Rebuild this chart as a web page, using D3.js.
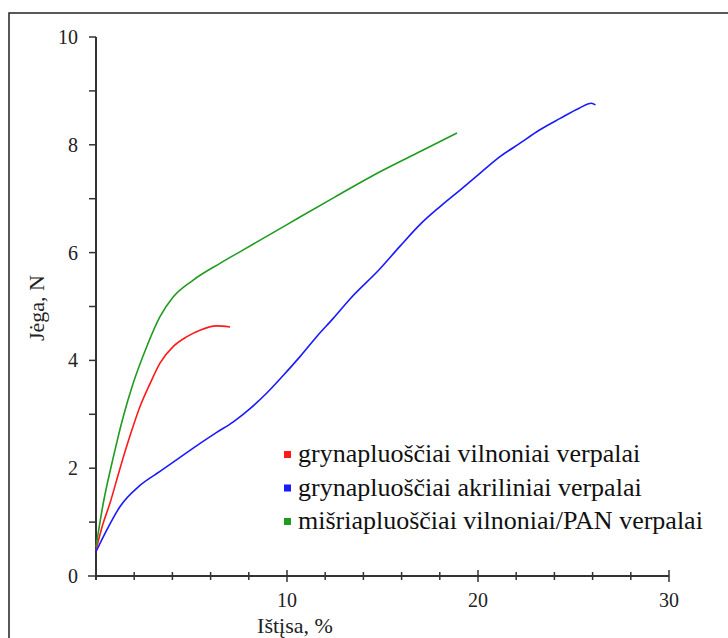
<!DOCTYPE html>
<html><head><meta charset="utf-8">
<script src="https://cdn.jsdelivr.net/npm/d3@7"></script>
<style>body{margin:0;background:#fff}svg{display:block}</style>
</head><body>
<svg id="c" width="728" height="638"></svg>
<script>
const seriesNames = ["grynapluoščiai vilnoniai verpalai","grynapluoščiai akriliniai verpalai","mišriapluoščiai vilnoniai/PAN verpalai"];
const seriesColors = ["#ff1a1a","#1a1aff","#1f9c1f"];
const redX = [0,0.35,0.73,1.26,1.78,2.30,2.83,3.35,4.05,4.76,5.44,6.31,7.02];
const redY = [0.48,0.95,1.35,2.00,2.60,3.14,3.57,3.95,4.26,4.44,4.56,4.64,4.62];
const blueX = [0,0.56,1.26,2.30,3.35,4.40,5.45,6.30,7.19,8.05,8.93,9.80,10.68,11.55,12.42,13.30,14.87,15.92,16.96,18.0,19.06,20.1,21.15,22.2,23.2,24.3,25.3,25.94,26.15];
const blueY = [0.45,0.85,1.29,1.68,1.94,2.20,2.46,2.66,2.86,3.10,3.39,3.72,4.07,4.44,4.78,5.14,5.70,6.12,6.52,6.85,7.16,7.47,7.78,8.03,8.27,8.49,8.68,8.77,8.74];
const greenX = [0,0.38,0.91,1.43,1.95,2.65,3.35,4.05,5.09,6.49,7.71,10.0,12.5,14.87,17.0,18.9];
const greenY = [0.54,1.35,2.21,2.96,3.58,4.25,4.81,5.18,5.49,5.80,6.05,6.52,7.03,7.50,7.88,8.22];
const xTicks = [0,2,4,6,8,10,12,14,16,18,20,22,24,26,28,30];
const xLabels = [10,20,30];
const yTicks = [0,1,2,3,4,5,6,7,8,9,10];
const yLabels = [0,2,4,6,8,10];

const svg = d3.select("#c");
const x = d3.scaleLinear().domain([0,30]).range([96,669]);
const y = d3.scaleLinear().domain([0,10]).range([576,37]);
const axisColor = "#333";
const font = "'Liberation Serif','Times New Roman',serif";

// frame
svg.append("path").attr("d","M9,640 L9,13 L730,13").attr("fill","none").attr("stroke","#222").attr("stroke-width",1.5);

// x axis
const xa = svg.append("g");
xa.append("line").attr("x1",x(0)).attr("x2",x(30)).attr("y1",y(0)).attr("y2",y(0)).attr("stroke",axisColor).attr("stroke-width",2);
xa.selectAll("line.t").data(xTicks.filter(d=>d>0)).enter().append("line")
  .attr("x1",d=>x(d)).attr("x2",d=>x(d))
  .attr("y1",d=>y(0)-(d%10===0?6:4)).attr("y2",d=>y(0)+(d%10===0?6:4))
  .attr("stroke",axisColor).attr("stroke-width",1.5);
xa.selectAll("text").data(xLabels).enter().append("text")
  .attr("x",d=>x(d)).attr("y",607).attr("text-anchor","middle")
  .attr("font-family",font).attr("font-size",20).attr("fill","#222").text(d=>d);

// y axis
const ya = svg.append("g");
ya.append("line").attr("x1",x(0)).attr("x2",x(0)).attr("y1",y(0)+4).attr("y2",y(10)).attr("stroke",axisColor).attr("stroke-width",2);
ya.selectAll("line.t").data(yTicks).enter().append("line")
  .attr("x1",d=>x(0)-(d===0?8:7)).attr("x2",x(0))
  .attr("y1",d=>y(d)).attr("y2",d=>y(d))
  .attr("stroke",axisColor).attr("stroke-width",1.5);
ya.selectAll("text").data(yLabels).enter().append("text")
  .attr("x",78).attr("y",d=>y(d)+7).attr("text-anchor","end")
  .attr("font-family",font).attr("font-size",20).attr("fill","#222").text(d=>d);

// axis titles
svg.append("text").attr("x",295).attr("y",633).attr("text-anchor","middle")
  .attr("font-family",font).attr("font-size",22).attr("fill","#222").text("Ištįsa, %");
svg.append("text").attr("transform","translate(44,308) rotate(-90)").attr("text-anchor","middle")
  .attr("font-family",font).attr("font-size",22).attr("fill","#222").text("Jėga, N");

// lines
const line = d3.line().x(d=>x(d[0])).y(d=>y(d[1])).curve(d3.curveMonotoneX);
const series = [d3.zip(redX,redY), d3.zip(blueX,blueY), d3.zip(greenX,greenY)];
series.forEach((s,i)=>{
  svg.append("path").datum(s).attr("d",line).attr("fill","none")
    .attr("stroke",seriesColors[i]).attr("stroke-width",1.6);
});

// legend
const lg = svg.append("g");
seriesNames.forEach((n,i)=>{
  const ly = 455 + i*33.5;
  lg.append("rect").attr("x",284).attr("y",ly-4).attr("width",7).attr("height",7).attr("fill",seriesColors[i]);
  lg.append("text").attr("x",298).attr("y",ly+7).attr("font-family",font).attr("font-size",26).attr("fill","#111").text(n);
});
</script>
</body></html>
